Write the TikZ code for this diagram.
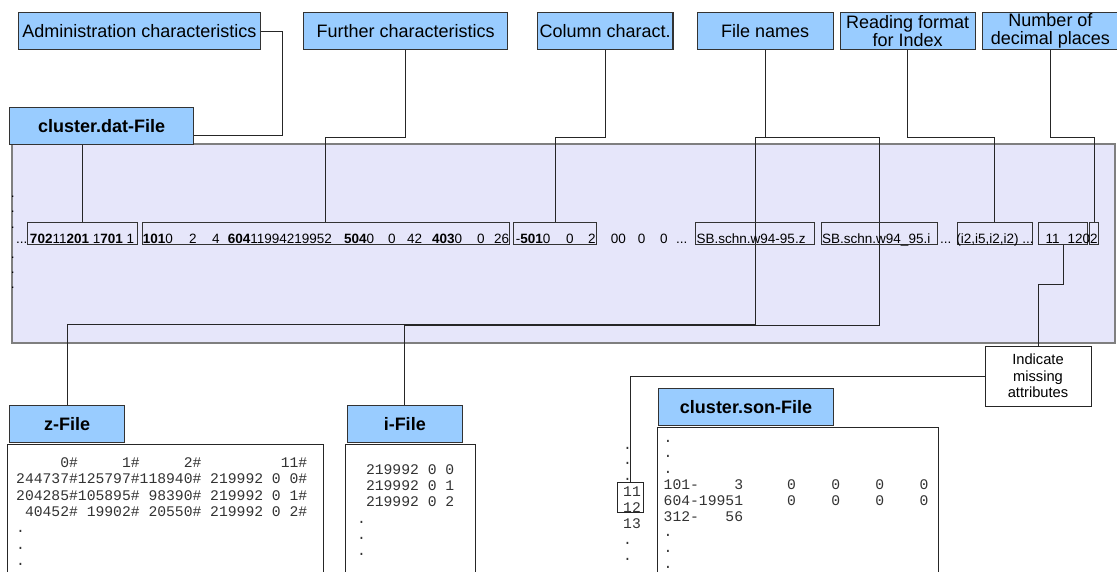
\documentclass[tikz,border=0pt]{standalone}
\usepackage{fontspec}
\setmainfont{Liberation Sans}
\setmonofont{Liberation Mono}
\definecolor{labelblue}{HTML}{99CCFF}
\definecolor{filebg}{HTML}{E6E6FA}
\definecolor{framegray}{HTML}{7F7F7F}
\pgfdeclarelayer{back}
\pgfdeclarelayer{wires}
\pgfsetlayers{back,wires,main}
% a column of text lines with a fixed line distance, baseline at the first line
\newcommand\listcol[2]{\vtop{\baselineskip=#1pt\relax #2}}

\begin{document}
\begin{tikzpicture}[x=1pt,y=-1pt,
  conn/.style={draw=black!85, line width=1pt},
  labelbox/.style={draw=black!80, line width=1.1pt, fill=labelblue, inner sep=0pt,
    anchor=north west, align=center, minimum height=37.3pt,
    font=\fontsize{18}{18}\selectfont},
  titlebox/.style={labelbox, minimum height=36.5pt,
    font=\fontsize{18}{18}\selectfont\bfseries},
  fieldbox/.style={draw=black!80, line width=0.9pt, inner sep=0pt,
    anchor=north west, minimum height=21.4pt},
  rowtxt/.style={inner sep=0pt, anchor=base west, font=\fontsize{13.5}{15.2}\selectfont},
  listbox/.style={draw=black!85, line width=1pt, fill=white, inner sep=0pt,
    anchor=north west, minimum height=200pt},
  listtxt/.style={inner sep=0pt, anchor=base west, text=black!80,
    font=\fontsize{14.7}{16}\selectfont\ttfamily},
  notebox/.style={draw=black!85, line width=1pt, fill=white, align=center,
    inner sep=0pt, minimum width=106pt, minimum height=60pt,
    font=\fontsize{14.7}{16.4}\selectfont}
]
\path[use as bounding box] (0,0) rectangle (1117,572);
\clip (0,0) rectangle (1117,572);

% the record of cluster.dat
\begin{pgfonlayer}{back}
  \node[draw=framegray, line width=1.8pt, fill=filebg, anchor=north west,
        minimum width=1103pt, minimum height=198.4pt, inner sep=0pt] (dat) at (11,143.3) {};
\end{pgfonlayer}

% headings of the field groups
\node[labelbox, minimum width=242.5pt] (adm) at (17.5,12) {Administration characteristics};
\node[labelbox, minimum width=204pt]   (fur) at (303,12)   {Further characteristics};
\node[labelbox, minimum width=135.6pt] (col) at (536.8,12) {Column charact.};
\node[labelbox, minimum width=135.7pt] (fn)  at (696.8,12) {File names};
\node[labelbox, minimum width=135pt]   (rf)  at (839.6,12) {Reading format\\for Index};
\node[labelbox, minimum width=136.5pt] (nd)  at (981.7,12) {Number of\\decimal places};

% field groups inside the record
\node[fieldbox, minimum width=110pt]   (b1) at (27.3,222.3) {};
\node[fieldbox, minimum width=367.6pt] (b2) at (141.7,222.3) {};
\node[fieldbox, minimum width=82.7pt]  (b3) at (513.3,222.3) {};
\node[fieldbox, minimum width=119pt]   (b4) at (695.3,222.3) {};
\node[fieldbox, minimum width=116.3pt] (b5) at (821,222.3) {};
\node[fieldbox, minimum width=74.7pt]  (b6) at (957,222.3) {};
\node[fieldbox, minimum width=49pt]    (b7) at (1038.3,222.3) {};
\node[fieldbox, minimum width=9.3pt]   (b8) at (1089,222.3) {};

% record text
\node[rowtxt] (ldots) at (10.6,197.7) {\listcol{15.2}{\hbox{.}\hbox{.}\hbox{.}\hbox{}\hbox{.}\hbox{.}\hbox{.}}};
\node[rowtxt] (r1)  at (16,243.5)    {...};
\node[rowtxt] (r2)  at (29.8,243.5)  {\textbf{702}11\textbf{201} 1\textbf{701} 1};
\node[rowtxt] (r3)  at (142.7,243.5) {\textbf{101}0};
\node[rowtxt] (r4)  at (189,243.5)   {2};
\node[rowtxt] (r5)  at (212,243.5)   {4};
\node[rowtxt] (r6)  at (227.7,243.5) {\textbf{604}11994219952};
\node[rowtxt] (r7)  at (344,243.5)   {\textbf{504}0};
\node[rowtxt] (r8)  at (388,243.5)   {0};
\node[rowtxt] (r9)  at (407,243.5)   {42};
\node[rowtxt] (r10) at (432,243.5)   {\textbf{403}0};
\node[rowtxt] (r11) at (477,243.5)   {0};
\node[rowtxt] (r12) at (494,243.5)   {26};
\node[rowtxt] (r13) at (515.7,243.5) {-\textbf{501}0};
\node[rowtxt] (r14) at (566,243.5)   {0};
\node[rowtxt] (r15) at (588,243.5)   {2};
\node[rowtxt] (r16) at (610.7,243.5) {00};
\node[rowtxt] (r17) at (637.7,243.5) {0};
\node[rowtxt] (r18) at (660,243.5)   {0};
\node[rowtxt] (r19) at (676,243.5)   {...};
\node[rowtxt] (r20) at (696.5,243.5) {SB.schn.w94-95.z};
\node[rowtxt] (r21) at (822,243.5)   {SB.schn.w94\_95.i};
\node[rowtxt] (r22) at (940,243.5)   {... (i2,i5,i2,i2) ...};
\node[rowtxt] (r23) at (1045.5,243.5) {11};
\node[rowtxt] (r24) at (1067.5,243.5) {1202};

\node[titlebox, minimum width=184.2pt] (cdat) at (9,107.3) {cluster.dat-File};

% output files
\node[titlebox, minimum width=115.3pt] (zf)    at (9,405)       {z-File};
\node[titlebox, minimum width=115pt]   (ifile) at (346.7,405)   {i-File};
\node[titlebox, minimum width=174.5pt] (cson)  at (658.2,388.3) {cluster.son-File};

\node[listbox, minimum width=316pt]   (zc) at (7.3,444.3) {};
\node[listbox, minimum width=130.3pt] (ic) at (344.7,444.3) {};
\node[listbox, minimum width=281.3pt] (sc) at (656.6,427.3) {};

\node[listtxt] (zt) at (16,467.2) {\listcol{16.4}{%
  \hbox{~~~~~0\#~~~~~1\#~~~~~2\#~~~~~~~~~11\#}%
  \hbox{244737\#125797\#118940\#~219992~0~0\#}%
  \hbox{204285\#105895\#~98390\#~219992~0~1\#}%
  \hbox{~40452\#~19902\#~20550\#~219992~0~2\#}%
  \hbox{.}\hbox{.}\hbox{.}}};

\node[listtxt] (it) at (357,474.5) {\listcol{16.2}{%
  \hbox{~219992~0~0}\hbox{~219992~0~1}\hbox{~219992~0~2}%
  \hbox{.}\hbox{.}\hbox{.}}};

\node[listtxt] (st) at (663.5,442) {\listcol{15.8}{%
  \hbox{.}\hbox{.}\hbox{.}%
  \hbox{101-~~~~3~~~~~0~~~~0~~~~0~~~~0}%
  \hbox{604-19951~~~~~0~~~~0~~~~0~~~~0}%
  \hbox{312-~~~56}%
  \hbox{.}\hbox{.}\hbox{.}}};

\node[listtxt] (num) at (623,449) {\listcol{15.9}{%
  \hbox{.}\hbox{.}\hbox{.}\hbox{11}\hbox{12}\hbox{13}\hbox{.}\hbox{.}}};
\node[draw=black!85, line width=1pt, inner sep=0pt, anchor=north west,
      minimum width=26pt, minimum height=30pt] (sq) at (617.3,482.3) {};

\node[notebox] (miss) at (1038,376) {Indicate\\missing\\attributes};

% connectors
\begin{pgfonlayer}{wires}
  \draw[conn] (adm.east) -| (282,136) -| (b1.north);
  \draw[conn] (fur.south) -- ++(0,86.7) -| (b2.north);
  \draw[conn] (col.south) -- ++(0,86.7) -| (b3.north);
  \draw[conn] (fn.south) -- ++(0,86.7) coordinate (fnj);
  \draw[conn] (b4.north |- fnj) -- (b5.north |- fnj);
  \draw[conn] (b4.north |- fnj) -- (b4.south) -- ++(0,80.3) -| (zf.north);
  \draw[conn] (b5.north |- fnj) -- (b5.south) -- ++(0,81.3) -| (ifile.north);
  \draw[conn] (rf.south) -- ++(0,86.7) -| (b6.north);
  \draw[conn] (nd.south) -- ++(0,86.7) -| (b8.north);
  \draw[conn] (b7.south) -- ++(0,40.3) -| (miss.north);
  \draw[conn] (miss.west) -| (sq.north);
\end{pgfonlayer}
\end{tikzpicture}
\end{document}
